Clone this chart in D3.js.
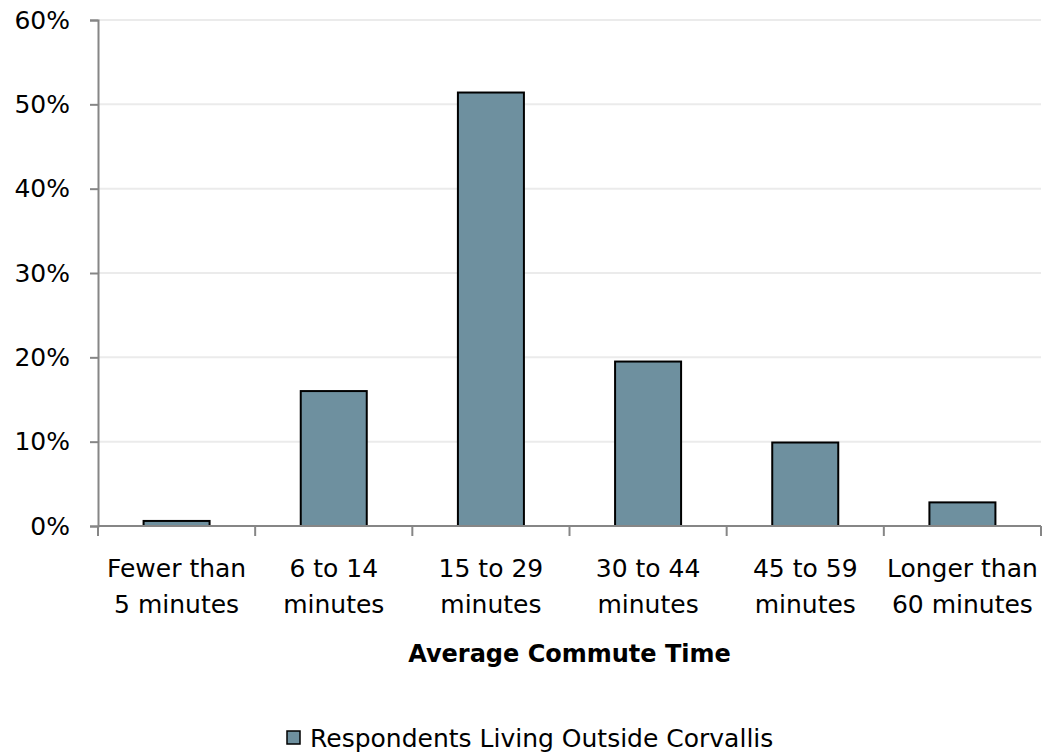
<!DOCTYPE html>
<html><head><meta charset="utf-8">
<script src="https://cdn.jsdelivr.net/npm/d3@7"></script>
<style>body{margin:0;background:#fff}svg{display:block}text{font-family:"DejaVu Sans",sans-serif;fill:#000}</style>
</head><body>
<svg id="c" width="1055" height="753"></svg>
<script>
const categories = [["Fewer than","5 minutes"],["6 to 14","minutes"],["15 to 29","minutes"],["30 to 44","minutes"],["45 to 59","minutes"],["Longer than","60 minutes"]];
const values = [0.6, 16.0, 51.4, 19.5, 9.9, 2.8];
const yTicks = [0,10,20,30,40,50,60];
const seriesName = "Respondents Living Outside Corvallis";
const xTitle = "Average Commute Time";

const FONT = '"DejaVu Sans",sans-serif';
const FS = 25;
const svg = d3.select("#c");
const L=98, R=1041, T=20, B=526;
const x = d3.scaleBand().domain(d3.range(categories.length)).range([L,R]).paddingInner(0.58).paddingOuter(0.29);
const xb = d3.scaleBand().domain(d3.range(categories.length)).range([L,R]);
const y = d3.scaleLinear().domain([0,60]).range([B,T]);

// gridlines
svg.append("g").selectAll("line").data(yTicks.filter(d=>d>0)).join("line")
  .attr("x1",L).attr("x2",R).attr("y1",d=>y(d)).attr("y2",d=>y(d))
  .attr("stroke","#ebebeb").attr("stroke-width",2);

// bars
svg.append("g").selectAll("rect").data(values).join("rect")
  .attr("x",(d,i)=>x(i)).attr("width",x.bandwidth())
  .attr("y",d=>y(d)).attr("height",d=>B-y(d))
  .attr("fill","#6e909f").attr("stroke","#000").attr("stroke-width",2);

// y axis
const ya = svg.append("g").attr("transform",`translate(${L},0)`)
  .call(d3.axisLeft(y).tickValues(yTicks).tickFormat(d=>d+"%").tickSize(8).tickPadding(20));
ya.attr("font-family",FONT).attr("font-size",FS);
ya.select(".domain").attr("stroke","#868686").attr("stroke-width",2);
ya.selectAll(".tick line").attr("stroke","#868686").attr("stroke-width",2);
ya.selectAll("text").attr("fill","#000");

// x axis line and ticks
svg.append("line").attr("x1",L).attr("x2",R).attr("y1",B).attr("y2",B).attr("stroke","#868686").attr("stroke-width",2);
const bounds = d3.range(categories.length+1).map(i=> i<categories.length ? xb(i) : R);
svg.append("g").selectAll("line").data(bounds).join("line")
  .attr("x1",d=>d).attr("x2",d=>d).attr("y1",B).attr("y2",B+10)
  .attr("stroke","#868686").attr("stroke-width",2);

// x labels
const xl = svg.append("g").selectAll("text").data(categories).join("text")
  .attr("x",(d,i)=>xb(i)+xb.bandwidth()/2).attr("y",577)
  .attr("text-anchor","middle").attr("font-size",FS);
xl.selectAll("tspan").data(d=>d).join("tspan")
  .attr("x",function(){return this.parentNode.getAttribute("x");})
  .attr("dy",(d,i)=>i?36:0).text(d=>d);

// x title
svg.append("text").attr("x",(L+R)/2).attr("y",662).attr("text-anchor","middle")
  .attr("font-size",24).attr("font-weight","bold").text(xTitle);

// legend
const lg = svg.append("g");
lg.append("text").attr("x",310).attr("y",747).attr("font-size",FS).text(seriesName);
lg.append("rect").attr("x",287).attr("y",731).attr("width",13).attr("height",13)
  .attr("fill","#6e909f").attr("stroke","#000").attr("stroke-width",1.5);
</script>
</body></html>
